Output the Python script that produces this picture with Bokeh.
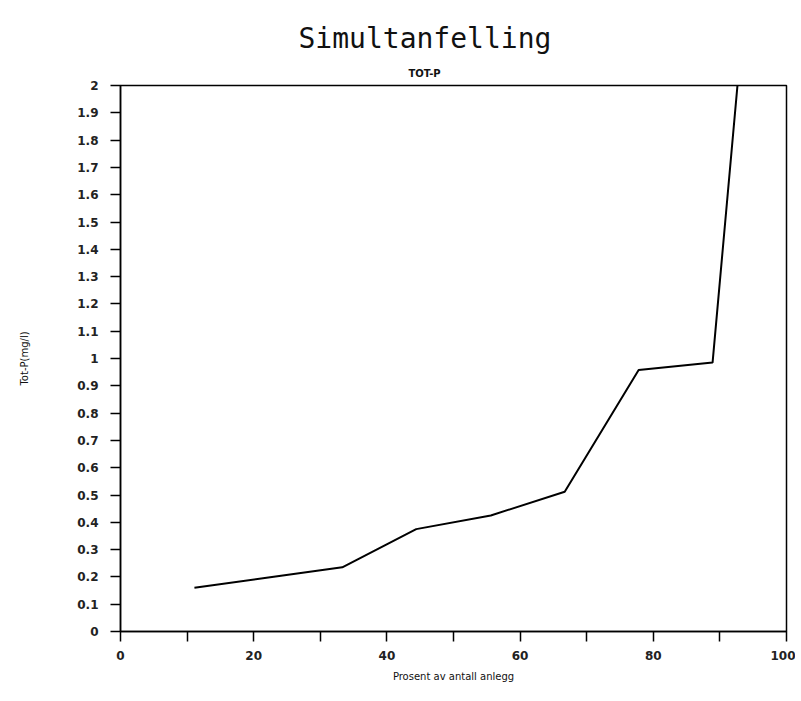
from bokeh.plotting import figure
from bokeh.models import Range1d, Title, FixedTicker
from bokeh.embed import file_html
from bokeh.resources import INLINE

# Data
pct = [11.1, 22.2, 33.3, 44.4, 55.6, 66.7, 77.8, 88.9, 100.0]
totp = [0.16, 0.198, 0.235, 0.375, 0.425, 0.512, 0.958, 0.985, 4.0]

x_ticks = [0, 20, 40, 60, 80, 100]
x_minor = [10, 30, 50, 70, 90]
y_ticks = [round(i * 0.1, 1) for i in range(21)]

title_text = "Simultanfelling"
subtitle_text = "TOT-P"
x_label = "Prosent av antall anlegg"
y_label = "Tot-P(mg/l)"

p = figure(width=795, height=695, output_backend="svg", toolbar_location=None,
           x_range=Range1d(0, 100), y_range=Range1d(0, 2),
           min_border_left=120, min_border_right=9, min_border_top=85, min_border_bottom=64)

p.line(pct, totp, line_color="black", line_width=2)

p.xgrid.visible = False
p.ygrid.visible = False
p.outline_line_color = "black"
p.outline_line_width = 1.5
p.background_fill_color = "white"
p.border_fill_color = "white"

tick_font = "DejaVu Sans"
xa = p.xaxis[0]
xa.ticker = FixedTicker(ticks=x_ticks, minor_ticks=x_minor)
xa.major_tick_out = 10
xa.major_tick_in = 0
xa.minor_tick_out = 10
xa.minor_tick_in = 0
xa.axis_line_width = 1.5
xa.major_tick_line_width = 1.5
xa.minor_tick_line_width = 1.5
xa.major_label_standoff = 9
xa.major_label_text_font = tick_font
xa.major_label_text_font_size = "12px"
xa.major_label_text_font_style = "bold"
xa.major_label_text_color = "#222222"
xa.axis_label = x_label
xa.axis_label_text_font = tick_font
xa.axis_label_text_font_size = "10px"
xa.axis_label_text_font_style = "normal"
xa.axis_label_text_color = "#111111"
xa.axis_label_standoff = 8

ya = p.yaxis[0]
ya.ticker = FixedTicker(ticks=y_ticks)
ya.major_tick_out = 10
ya.major_tick_in = 0
ya.minor_tick_out = 0
ya.minor_tick_in = 0
ya.axis_line_width = 1.5
ya.major_tick_line_width = 1.5
ya.major_label_standoff = 12
ya.major_label_text_font = tick_font
ya.major_label_text_font_size = "12px"
ya.major_label_text_font_style = "bold"
ya.major_label_text_color = "#222222"
ya.axis_label = y_label
ya.axis_label_text_font = tick_font
ya.axis_label_text_font_size = "10px"
ya.axis_label_text_font_style = "normal"
ya.axis_label_text_color = "#111111"
ya.axis_label_standoff = 44

p.add_layout(Title(text=subtitle_text, align="left", offset=288,
                   text_font="DejaVu Sans", text_font_size="10px", text_font_style="bold",
                   text_color="#111111", standoff=14), "above")
p.add_layout(Title(text=title_text, align="left", offset=178,
                   text_font="DejaVu Sans Mono", text_font_size="28px", text_font_style="normal",
                   text_color="#111111", standoff=7), "above")

open("out.html", "w").write(file_html(p, INLINE))
